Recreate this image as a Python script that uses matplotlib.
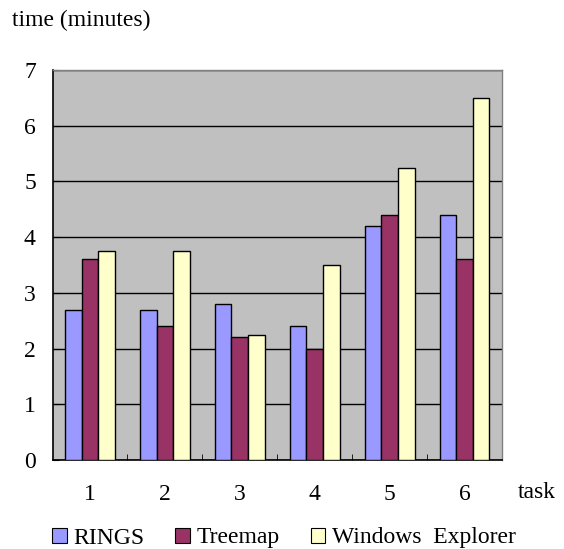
import matplotlib
matplotlib.use("Agg")
import matplotlib.pyplot as plt
import numpy as np
from matplotlib.patches import Patch

tasks = ["1", "2", "3", "4", "5", "6"]
rings = [2.7, 2.7, 2.8, 2.4, 4.2, 4.4]
treemap = [3.6, 2.4, 2.2, 2.0, 4.4, 3.6]
explorer = [3.75, 3.75, 2.25, 3.5, 5.25, 6.5]
series_names = ["RINGS", "Treemap", "Windows  Explorer"]
colors = ["#9999FF", "#993366", "#FFFFCC"]

plt.rcParams['font.family'] = ['Liberation Serif', 'DejaVu Serif']
FS = 17

fig = plt.figure(figsize=(5.64, 5.49), dpi=100)
ax = fig.add_axes([52.5 / 564, 1 - 460 / 549, (502 - 52.5) / 564, (460 - 70) / 549])
ax.set_facecolor("#C0C0C0")

x = np.arange(len(tasks))
w = 0.222
for i, (vals, c) in enumerate(zip([rings, treemap, explorer], colors)):
    ax.bar(x + (i - 1) * w, vals, width=w, color=c, edgecolor="black",
           linewidth=1.0, zorder=3)

ax.set_xlim(-0.5, len(tasks) - 0.5)
ax.set_ylim(0, 7)
ax.set_yticks(range(0, 8))
ax.yaxis.grid(True, color="black", linewidth=1.0, zorder=1)
ax.set_axisbelow(True)

ax.set_xticks(x)
ax.set_xticklabels(tasks, fontsize=FS)
ax.set_xticks(np.arange(0.5, len(tasks) - 0.5, 1.0), minor=True)
ax.tick_params(axis="x", which="major", length=0, pad=17)
ax.tick_params(axis="x", which="minor", direction="in", length=4, color="black")
ax.tick_params(axis="y", direction="in", length=4, labelsize=FS, pad=12)

for s in ["top", "right"]:
    ax.spines[s].set_color("#808080")
    ax.spines[s].set_linewidth(1.0)
for s in ["left", "bottom"]:
    ax.spines[s].set_color("black")
    ax.spines[s].set_linewidth(1.2)

fig.text(12 / 564, 1 - 20 / 549, "time (minutes)", fontsize=FS, va="center", ha="left")
fig.text(537 / 564, 1 - 493 / 549, "task", fontsize=FS, va="center", ha="center")

handles = [Patch(facecolor=c, edgecolor="black", linewidth=0.8) for c in colors]
fig.legend(handles, series_names, loc="center", bbox_to_anchor=(284 / 564, 1 - 538 / 549),
           ncol=3, frameon=False, fontsize=FS, handlelength=0.6, handleheight=0.6,
           handletextpad=0.3, columnspacing=1.3, borderpad=0.0, borderaxespad=0.0)

fig.savefig("out.png", dpi=100)
